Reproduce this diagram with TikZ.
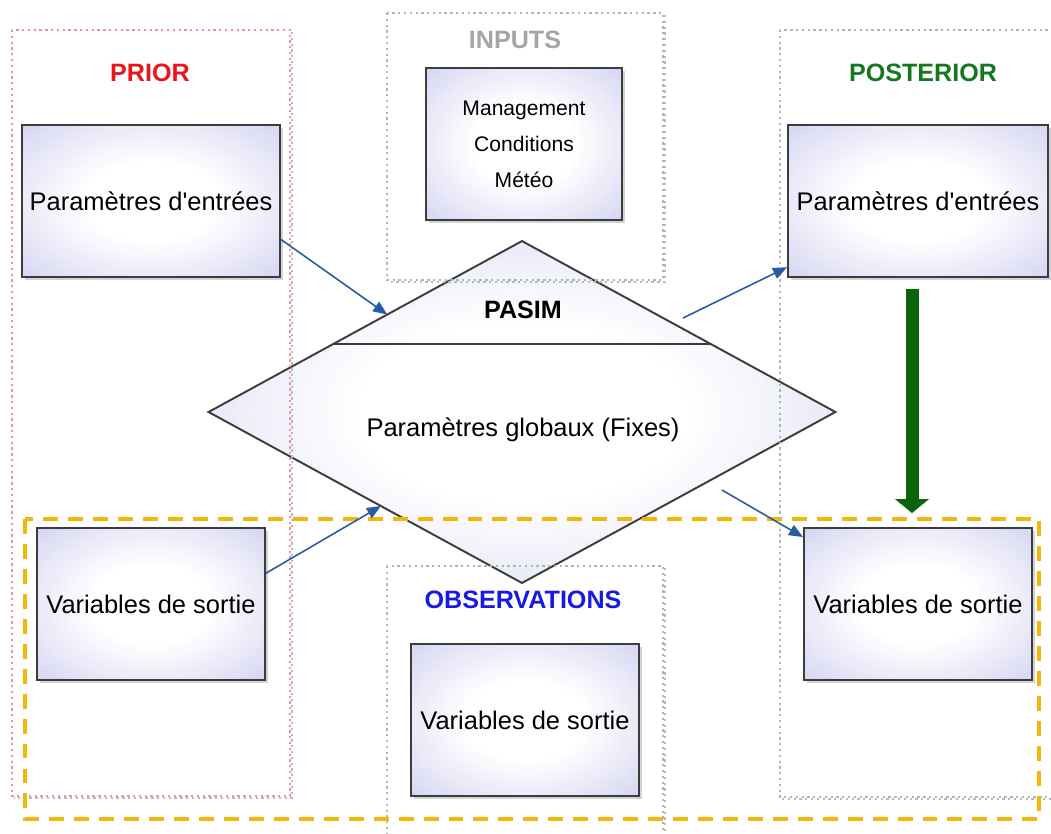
\documentclass[tikz,border=0pt]{standalone}
\usepackage{fontspec}
\setmainfont{Liberation Sans}
\usetikzlibrary{positioning,calc,arrows.meta,shapes.geometric,shadows}

\definecolor{boxfill}{RGB}{212,212,242}
\definecolor{boxline}{RGB}{60,60,60}
\definecolor{priorred}{RGB}{235,20,25}
\definecolor{postgreen}{RGB}{20,120,30}
\definecolor{obsblue}{RGB}{25,25,230}
\definecolor{inputgray}{RGB}{165,165,165}
\definecolor{arrowblue}{RGB}{40,90,165}
\definecolor{darkgreen}{RGB}{10,100,10}
\definecolor{dashorange}{RGB}{242,183,10}
\definecolor{dotred}{RGB}{235,150,150}
\definecolor{dotgreen}{RGB}{160,190,160}

\pgfdeclareradialshading{boxglow}{\pgfpoint{0bp}{0bp}}{%
  color(0bp)=(white); color(13bp)=(white); color(25bp)=(boxfill!50!white); color(36bp)=(boxfill)}

\tikzset{
  box/.style={draw=boxline, line width=1.1pt, shading=boxglow,
    drop shadow={shadow xshift=1.5pt, shadow yshift=-1.5pt, opacity=0.35},
    inner sep=1pt, minimum height=3.04cm, font=\fontsize{14.5}{17}\selectfont},
  title/.style={font=\bfseries\fontsize{14.3}{17}\selectfont},
  flow/.style={draw=arrowblue, line width=0.9pt, -{Triangle[length=8pt,width=6.5pt]}},
  frame/.style={dotted, line width=1.3pt},
  frameshade/.style={dotted, line width=1.3pt, gray!55},
}

\begin{document}
\begin{tikzpicture}[x=0.02cm, y=-0.02cm]
  \useasboundingbox (0,0) rectangle (1051,833);
  % PASIM
  \node[diamond, draw=boxline, line width=1.1pt, shading=boxglow,
    minimum width=12.54cm, minimum height=6.84cm, inner sep=0pt, outer sep=0pt] (pasim) at (522,412) {};
  \draw[boxline, line width=1.1pt] ($(pasim.north)!0.6!(pasim.west)$) -- ($(pasim.north)!0.6!(pasim.east)$);
  \node[title] (pasimlbl) at (523,310) {PASIM};
  \node[font=\fontsize{14.5}{17}\selectfont] (glob) at (523,430) {Paramètres globaux (Fixes)};

  % frames
  \draw[frameshade] (292,32) -- (292,798) -- (14,798);
  \draw[frameshade] (665,15) -- (665,282) -- (389,282);
  \draw[frameshade] (665,568) -- (665,850);
  \draw[frameshade] (782,799) -- (1060,799);
  \draw[frame, dotred] (12,30) rectangle (290,796);
  \draw[frame, dotgreen] (387,13) rectangle (663,280);
  \draw[frame, dotgreen] (780,30) rectangle (1060,797);
  \draw[frame, dotgreen] (387,566) rectangle (663,850);

  \node[title, priorred] (prior) at (150,73) {PRIOR};
  \node[title, inputgray] (inputs) at (515,40) {INPUTS};
  \node[title, postgreen] (posterior) at (923,73) {POSTERIOR};
  \node[title, obsblue] (observ) at (523,600) {OBSERVATIONS};

  % boxes
  \node[box, minimum width=5.16cm] (pin) at (151,201) {Paramètres d\textquotesingle entrées};
  \node[box, minimum width=5.2cm] (pout) at (918,201) {Paramètres d\textquotesingle entrées};
  \node[box, minimum width=4.56cm] (vin) at (151,604) {Variables de sortie};
  \node[box, minimum width=4.56cm] (vout) at (918,604) {Variables de sortie};
  \node[box, minimum width=4.56cm] (vobs) at (525,720) {Variables de sortie};
  \node[box, minimum width=3.92cm, align=center, font=\fontsize{12}{20.5}\selectfont] (meteo) at (524,144) {Management\\Conditions\\Météo};

  \draw[dashorange, line width=1.8pt, dash pattern=on 8.5pt off 5.7pt] (25,519) rectangle (1039,819);

  % arrows
  \coordinate (s3) at (683,318);
  \coordinate (s4) at (722,490);
  \draw[flow] ($(pin.east)!0.5!(pin.south east)$) -- ($(pasim.west)!0.57!(pasim.north)$);
  \draw[flow] ($(vin.east)!0.4!(vin.north east)$) -- ($(pasim.west)!0.55!(pasim.south)$);
  \draw[flow] (s3) -- ($(pout.south west)!0.07!(pout.north west)$);
  \draw[flow] (s4) -- ($(vout.north west)!0.13!(vout.west)$);
  \draw[darkgreen, line width=7.4pt, -{Triangle[width=19pt,length=8pt]}, shorten <=0.22cm, shorten >=0.28cm]
    ([xshift=-0.12cm]pout.south) -- ([xshift=-0.12cm]vout.north);
\end{tikzpicture}
\end{document}
